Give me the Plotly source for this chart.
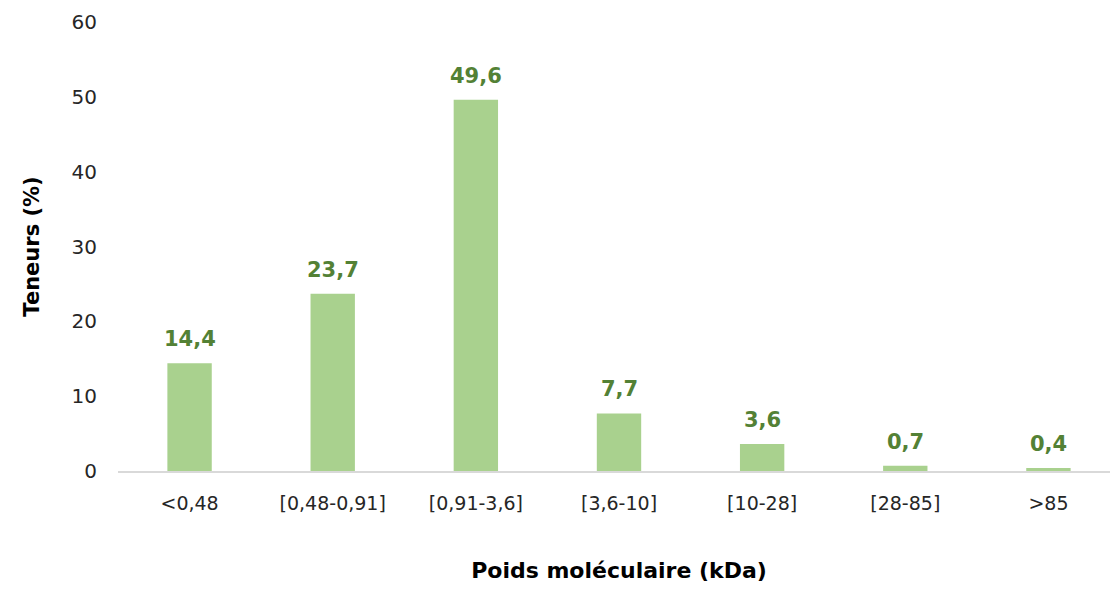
import plotly.graph_objects as go

categories = ["<0,48", "[0,48-0,91]", "[0,91-3,6]", "[3,6-10]", "[10-28]", "[28-85]", ">85"]
values = [14.4, 23.7, 49.6, 7.7, 3.6, 0.7, 0.4]
labels = [f"{v:.1f}".replace(".", ",") for v in values]

FONT = "DejaVu Sans"

fig = go.Figure(go.Bar(
    x=categories, y=values,
    marker=dict(color="#a9d18e", line=dict(width=0)),
    hoverinfo="x+y",
))

for c, v, t in zip(categories, values, labels):
    fig.add_annotation(
        x=c, y=v, text=f"<b>{t}</b>", showarrow=False,
        yanchor="bottom", yshift=10,
        font=dict(family=FONT, size=21, color="#538135"),
    )

fig.update_layout(
    width=1112, height=582,
    margin=dict(l=110, r=0, t=14, b=119, autoexpand=False),
    plot_bgcolor="white", paper_bgcolor="white",
    bargap=0.69,
    showlegend=False,
    font=dict(family=FONT, color="#262626", size=17),
)
fig.update_xaxes(
    showline=True, linecolor="#d9d9d9", linewidth=2,
    ticks="", tickfont=dict(family=FONT, size=19, color="#262626"), ticklabelstandoff=14,
    title=dict(text="<b>Poids moléculaire (kDa)</b>", font=dict(family=FONT, size=22, color="black"), standoff=50),
)
fig.update_yaxes(
    range=[0, 60], dtick=10, showgrid=False, zeroline=False,
    showline=False, ticks="", tickfont=dict(family=FONT, size=20, color="#262626"), ticklabelstandoff=20,
    title=dict(text="<b>Teneurs (%)</b>", font=dict(family=FONT, size=21, color="black"), standoff=26),
)

fig.write_html("out.html")
